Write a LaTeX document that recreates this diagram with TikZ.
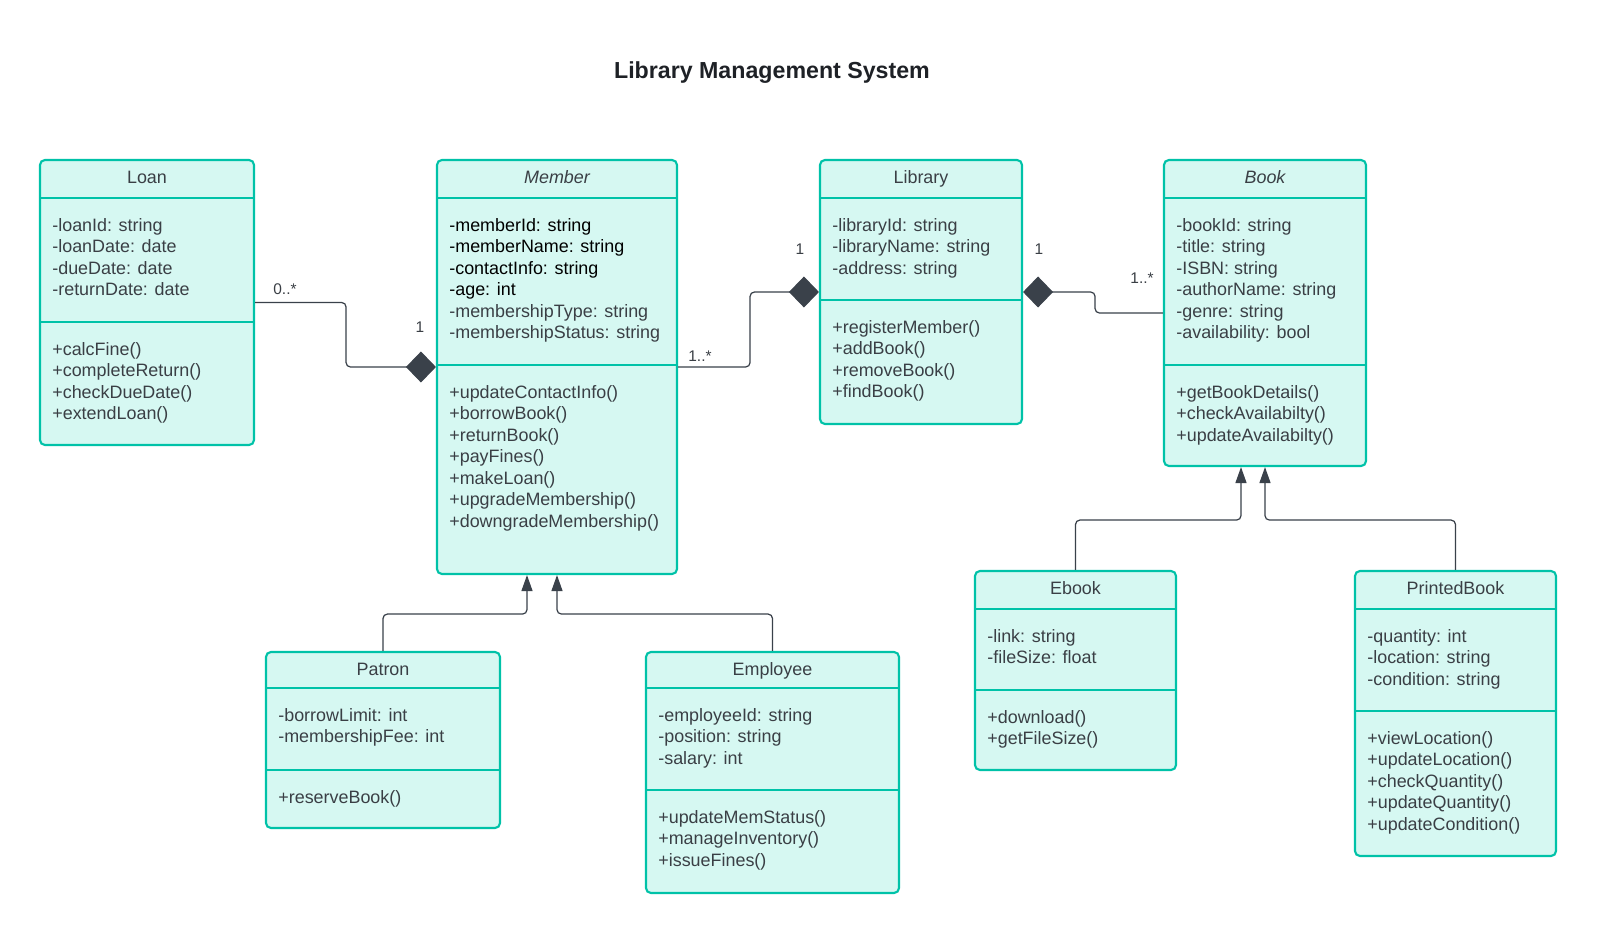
\documentclass[tikz,border=0pt]{standalone}
\usepackage{fontspec}
\setmainfont{Liberation Sans}
\usetikzlibrary{arrows.meta,positioning,calc,fit}
\usepackage{xcolor}
\definecolor{boxfill}{RGB}{214,248,242}
\definecolor{boxline}{RGB}{0,194,168}
\definecolor{ink}{RGB}{58,63,69}
\definecolor{wire}{RGB}{58,65,74}
\definecolor{headink}{RGB}{30,33,38}

\tikzset{
  classbox/.style={draw=boxline, fill=boxfill, line width=1.2pt, rounded corners=2.8pt, inner sep=0pt},
  sepline/.style={draw=boxline, line width=1.2pt},
  ctitle/.style={anchor=base, text=ink, font=\fontsize{10.2}{12.1}\selectfont},
  members/.style={anchor=north west, align=left, inner sep=0pt, text=ink, font=\fontsize{10.2}{12.25}\selectfont},
  mult/.style={text=ink, font=\fontsize{8.8}{10}\selectfont},
  comp/.style={draw=wire, line width=0.7pt, rounded corners=2.5pt},
  inherit/.style={draw=wire, line width=0.7pt, rounded corners=2.5pt, -{Triangle[length=0.32cm,width=0.22cm]}},
}

\begin{document}
\begin{tikzpicture}[x=0.02cm,y=-0.02cm]
\fill[white] (0,0) rectangle (1597,933);
\node[font=\bfseries\fontsize{13.2}{15}\selectfont, text=headink] (heading) at (772,73) {Library Management System};

% class boxes
\node[classbox, fit={(40,160) (254,445)}] (loan) {};
\node[classbox, fit={(437,160) (677,574)}] (member) {};
\node[classbox, fit={(820,160) (1022,424)}] (library) {};
\node[classbox, fit={(1164,160) (1366,466)}] (book) {};
\node[classbox, fit={(266,652) (500,828)}] (patron) {};
\node[classbox, fit={(646,652) (899,893)}] (employee) {};
\node[classbox, fit={(975,571) (1176,770)}] (ebook) {};
\node[classbox, fit={(1355,571) (1556,856)}] (printed) {};

% compartment lines
\foreach \a/\b/\y in {40/254/198, 40/254/322, 437/677/198, 437/677/365,
  820/1022/198, 820/1022/300, 1164/1366/198, 1164/1366/365,
  266/500/688, 266/500/770, 646/899/688, 646/899/790,
  975/1176/609, 975/1176/690, 1355/1556/609, 1355/1556/711}
  \draw[sepline] (\a,\y) -- (\b,\y);

% names
\node[ctitle] (loan-t) at (147,183) {Loan};
\node[ctitle] (member-t) at (557,183) {\itshape Member};
\node[ctitle] (library-t) at (921,183) {Library};
\node[ctitle] (book-t) at (1265,183) {\itshape Book};
\node[ctitle] (patron-t) at (383,675) {Patron};
\node[ctitle] (employee-t) at (772.5,675) {Employee};
\node[ctitle] (ebook-t) at (1075.5,594) {Ebook};
\node[ctitle] (printed-t) at (1455.5,594) {PrintedBook};

% attributes and operations
\node[members] (loan-a) at (52,218) {-loanId: string\\-loanDate: date\\-dueDate: date\\-returnDate: date};
\node[members] (loan-o) at (52,342) {+calcFine()\\+completeReturn()\\+checkDueDate()\\+extendLoan()};
\node[members] (member-a) at (449,218) {{\color{black}-memberId: string}\\{\color{black}-memberName: string}\\{\color{black}-contactInfo: string}\\{\color{black}-age: int}\\-membershipType: string\\-membershipStatus: string};
\node[members] (member-o) at (449,385) {+updateContactInfo()\\+borrowBook()\\+returnBook()\\+payFines()\\+makeLoan()\\+upgradeMembership()\\+downgradeMembership()};
\node[members] (library-a) at (832,218) {-libraryId: string\\-libraryName: string\\-address: string};
\node[members] (library-o) at (832,320) {+registerMember()\\+addBook()\\+removeBook()\\+findBook()};
\node[members] (book-a) at (1176,218) {-bookId: string\\-title: string\\-ISBN: string\\-authorName: string\\-genre: string\\-availability: bool};
\node[members] (book-o) at (1176,385) {+getBookDetails()\\+checkAvailabilty()\\+updateAvailabilty()};
\node[members] (patron-a) at (278,708) {-borrowLimit: int\\-membershipFee: int};
\node[members] (patron-o) at (278,790) {+reserveBook()};
\node[members] (employee-a) at (658,708) {-employeeId: string\\-position: string\\-salary: int};
\node[members] (employee-o) at (658,810) {+updateMemStatus()\\+manageInventory()\\+issueFines()};
\node[members] (ebook-a) at (987,629) {-link: string\\-fileSize: float};
\node[members] (ebook-o) at (987,710) {+download()\\+getFileSize()};
\node[members] (printed-a) at (1367,629) {-quantity: int\\-location: string\\-condition: string};
\node[members] (printed-o) at (1367,731) {+viewLocation()\\+updateLocation()\\+checkQuantity()\\+updateQuantity()\\+updateCondition()};

% composition
\draw[comp, -{Diamond[length=0.6cm,width=0.62cm]}] (loan.east) -- ++(91,0) |- (member.west);
\draw[comp, -{Diamond[length=0.6cm,width=0.62cm]}] (member.east) -- ++(72,0) |- (library.west);
\draw[comp, {Diamond[length=0.6cm,width=0.62cm]}-] (library.east) -- ++(72,0) |- (book.west);
\node[mult] (m-loan) at (285,289) {0..*};
\node[mult] (m-member) at (420,327) {1};
\node[mult] (m-member2) at (700,356) {1..*};
\node[mult] (m-library) at (800,249) {1};
\node[mult] (m-library2) at (1039,249) {1};
\node[mult] (m-book) at (1142,278) {1..*};

% generalisation
\draw[inherit] (patron.north) |- ($(member.south)+(-30,39)$) -- ($(member.south)+(-30,0)$);
\draw[inherit] (employee.north) |- ($(member.south)+(0,39)$) -- (member.south);
\draw[inherit] (ebook.north) |- ($(book.south)+(-24,53)$) -- ($(book.south)+(-24,0)$);
\draw[inherit] (printed.north) |- ($(book.south)+(0,53)$) -- (book.south);
\end{tikzpicture}
\end{document}
